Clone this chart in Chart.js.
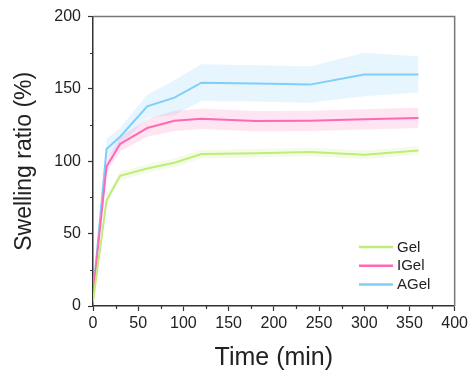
<!DOCTYPE html>
<html>
<head>
<meta charset="utf-8">
<script src="https://cdn.jsdelivr.net/npm/chart.js@4"></script>
<style>
  body { margin: 0; background: #fff; }
  canvas { display: block; }
</style>
</head>
<body>
<canvas id="swellChart" width="471" height="376"></canvas>
<script>
// time points (min)
const times = [0, 15, 30, 60, 90, 120, 180, 240, 300, 360];

const seriesNames = ["Gel", "IGel", "AGel"];
const gelMean = [3, 73, 90, 95, 99, 105, 105.5, 106.5, 104.5, 107.5];
const gelSd = [1, 3, 3, 3, 3, 3, 3, 3, 3, 3];
const igelMean = [8, 96.5, 112, 123, 128, 129.4, 127.8, 128, 129, 130];
const igelSd = [2, 4, 5, 6, 7, 7, 7, 7, 7, 7];
const agelMean = [8, 108.5, 117, 138, 144, 154.3, 153.8, 153, 160, 160];
const agelSd = [2, 7, 6, 8, 12, 12.7, 12.5, 12.6, 15, 12.4];

const xTicks = [0, 50, 100, 150, 200, 250, 300, 350, 400];
const yTicks = [0, 50, 100, 150, 200];

const lineColors = ["rgb(190, 237, 122)", "rgb(255, 105, 180)", "rgb(128, 206, 250)"];
const bandColors = ["rgba(200, 240, 140, 0.2)", "rgba(255, 105, 180, 0.18)", "rgba(128, 206, 250, 0.2)"];

const FONT = "'Liberation Sans', Arial, sans-serif";

function pts(mean, sd, sign) {
  return times.map((t, i) => ({ x: t, y: mean[i] + sign * sd[i] }));
}

const means = [gelMean, igelMean, agelMean];
const sds = [gelSd, igelSd, agelSd];

const datasets = [];
means.forEach((m, k) => {
  datasets.push({
    label: seriesNames[k],
    data: pts(m, sds[k], 0),
    borderColor: lineColors[k],
    borderWidth: 2,
    pointRadius: 0,
    fill: false,
    tension: 0,
    order: 1,
  });
});
means.forEach((m, k) => {
  datasets.push({
    label: seriesNames[k] + " upper",
    data: pts(m, sds[k], 1),
    borderWidth: 0,
    borderColor: "transparent",
    backgroundColor: bandColors[k],
    pointRadius: 0,
    fill: "+1",
    order: 5,
  });
  datasets.push({
    label: seriesNames[k] + " lower",
    data: pts(m, sds[k], -1),
    borderWidth: 0,
    borderColor: "transparent",
    pointRadius: 0,
    fill: false,
    order: 5,
  });
});

const majorOnly = (list) => (c) => (c.tick && list.includes(c.tick.value) ? "#333" : "rgba(0,0,0,0)");

// frame on top and right, minor ticks, inner legend
const framePlugin = {
  id: "frame",
  afterDraw(chart) {
    const { ctx, chartArea: a, scales } = chart;
    ctx.save();
    ctx.strokeStyle = "#777";
    ctx.lineWidth = 1.5;
    ctx.beginPath();
    ctx.moveTo(a.left, a.top);
    ctx.lineTo(a.right, a.top);
    ctx.lineTo(a.right, a.bottom);
    ctx.stroke();

    // minor ticks
    ctx.strokeStyle = "#333";
    ctx.lineWidth = 1.2;
    ctx.beginPath();
    scales.x.ticks.forEach((t) => {
      if (xTicks.includes(t.value)) return;
      const px = Math.round(scales.x.getPixelForValue(t.value)) + 0.5;
      ctx.moveTo(px, a.bottom);
      ctx.lineTo(px, a.bottom + 3);
    });
    scales.y.ticks.forEach((t) => {
      if (yTicks.includes(t.value)) return;
      const py = Math.round(scales.y.getPixelForValue(t.value)) + 0.5;
      ctx.moveTo(a.left, py);
      ctx.lineTo(a.left - 3, py);
    });
    ctx.stroke();

    // legend
    ctx.font = "15px " + FONT;
    ctx.textBaseline = "middle";
    ctx.fillStyle = "#222";
    seriesNames.forEach((name, k) => {
      const y = 247 + k * 18.7;
      ctx.strokeStyle = lineColors[k];
      ctx.lineWidth = 2.5;
      ctx.beginPath();
      ctx.moveTo(359, y);
      ctx.lineTo(393, y);
      ctx.stroke();
      ctx.fillText(name, 397, y + 0.5);
    });
    ctx.restore();
  },
};

new Chart(document.getElementById("swellChart").getContext("2d"), {
  type: "line",
  data: { datasets: datasets },
  options: {
    responsive: false,
    animation: false,
    layout: { padding: { top: 16, right: 16, left: 0, bottom: 0 } },
    plugins: {
      legend: { display: false },
      tooltip: { enabled: false },
    },
    scales: {
      x: {
        type: "linear",
        min: 0,
        max: 400,
        afterFit: (s) => { s.height = 70; },
        afterBuildTicks: (s) => {
          const t = [];
          for (let v = 0; v <= 400; v += 25) t.push({ value: v });
          s.ticks = t;
        },
        ticks: {
          autoSkip: false,
          maxRotation: 0,
          padding: 3,
          color: "#222",
          font: { family: FONT, size: 16 },
          callback: (v) => (xTicks.includes(v) ? String(v) : ""),
        },
        grid: { drawOnChartArea: false, tickLength: 5, tickColor: majorOnly(xTicks), tickWidth: 1.2 },
        border: { color: "#333", width: 1.5 },
        title: {
          display: true,
          text: "Time (min)",
          color: "#222",
          font: { family: FONT, size: 25 },
          padding: { top: 0, bottom: 3 },
        },
      },
      y: {
        min: 0,
        max: 200,
        afterFit: (s) => { s.width = 93; },
        afterBuildTicks: (s) => {
          const t = [];
          for (let v = 0; v <= 200; v += 25) t.push({ value: v });
          s.ticks = t;
        },
        ticks: {
          autoSkip: false,
          padding: 7,
          color: "#222",
          font: { family: FONT, size: 16 },
          callback: (v) => (yTicks.includes(v) ? String(v) : ""),
        },
        grid: { drawOnChartArea: false, tickLength: 5, tickColor: majorOnly(yTicks), tickWidth: 1.2 },
        border: { color: "#333", width: 1.5 },
        title: {
          display: true,
          text: "Swelling ratio (%)",
          color: "#222",
          font: { family: FONT, size: 23 },
          padding: { top: 11, bottom: 0 },
        },
      },
    },
  },
  plugins: [framePlugin],
});
</script>
</body>
</html>
